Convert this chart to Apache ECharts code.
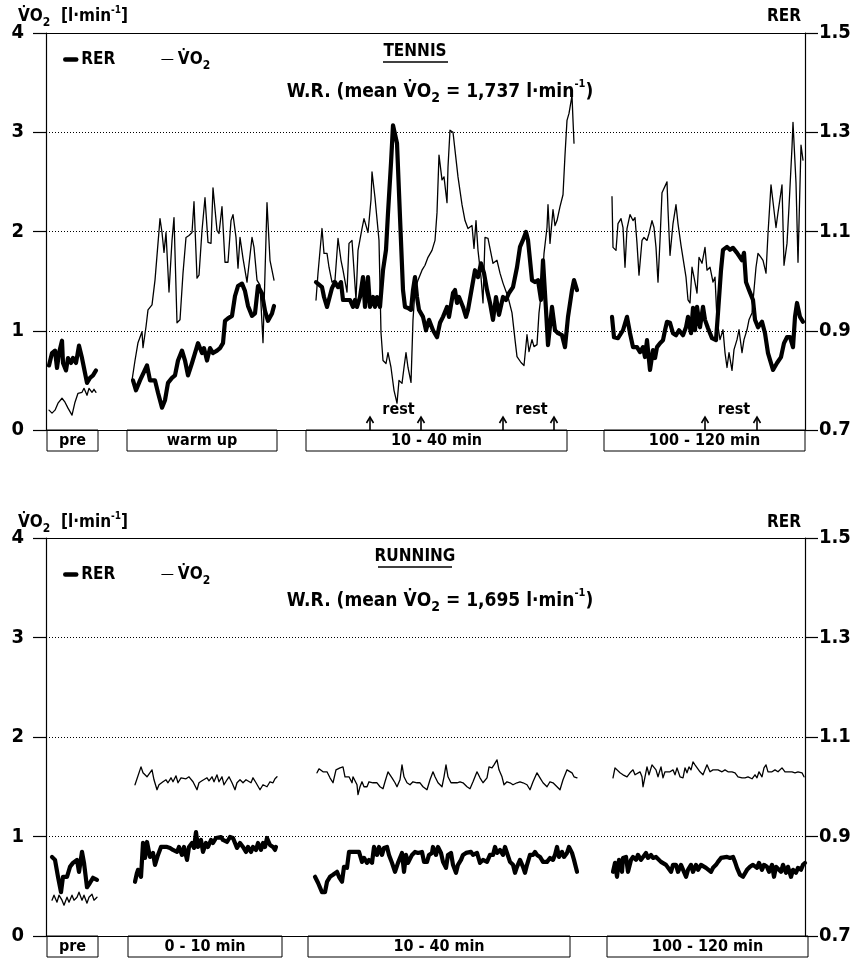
<!DOCTYPE html>
<html>
<head>
<meta charset="utf-8">
<script src="https://cdn.jsdelivr.net/npm/echarts@6/dist/echarts.min.js"></script>
<style>
html, body { margin: 0; padding: 0; background: #fff; }
#main { width: 863px; height: 958px; }
</style>
</head>
<body>
<div id="main"></div>
<script>
var FONT = "'DejaVu Sans Condensed', 'DejaVu Sans', sans-serif";

// x is a compressed time index (segments of the session separated by gaps)
// ---- TENNIS ----
var tennisPreRerT = [3,6,9,11,13,16,17,20,22,25,27,30,33,36,38,41,44,47,50];
var tennisPreRer = [0.83,0.855,0.86,0.825,0.855,0.88,0.835,0.82,0.845,0.835,0.845,0.835,0.87,0.845,0.825,0.795,0.805,0.81,0.82];
var tennisPreVo2T = [3,6,9,12,16,19,22,26,29,32,36,38,41,43,46,48,50];
var tennisPreVo2 = [0.20,0.17,0.20,0.27,0.32,0.28,0.22,0.15,0.28,0.37,0.38,0.42,0.35,0.42,0.38,0.41,0.38];

var tennisWarmRerT = [87,90,94,101,104,109,112,116,119,122,126,129,132,136,139,142,146,149,152,156,158,161,164,167,171,174,177,179,182,186,189,192,196,199,202,206,209,212,216,219,222,226,228];
var tennisWarmRer = [0.80,0.78,0.80,0.83,0.80,0.80,0.775,0.745,0.76,0.795,0.805,0.81,0.84,0.86,0.84,0.81,0.835,0.855,0.875,0.855,0.865,0.84,0.865,0.855,0.86,0.865,0.875,0.92,0.925,0.93,0.97,0.99,0.995,0.98,0.95,0.93,0.935,0.99,0.975,0.94,0.92,0.935,0.95];
var tennisWarmVo2T = [86,89,92,96,97,100,102,106,109,111,114,116,118,120,123,126,128,131,134,137,140,143,146,148,151,153,156,159,162,165,167,171,173,176,179,182,185,187,190,192,194,197,201,203,206,208,211,214,217,219,221,224,226,228];
var tennisWarmVo2 = [0.50,0.70,0.88,0.99,0.83,1.04,1.21,1.26,1.51,1.53,2.13,1.99,1.79,1.99,1.39,1.91,2.14,1.08,1.11,1.58,1.94,1.96,1.99,2.30,1.53,1.56,2.01,2.34,1.89,1.88,2.44,2.01,1.98,2.25,1.69,1.69,2.11,2.17,1.94,1.63,1.94,1.73,1.49,1.51,1.94,1.84,1.51,1.46,0.88,1.58,2.29,1.71,1.73,1.51];

var tennisMidRerT = [270,272,276,278,281,283,286,289,292,295,297,301,304,307,309,311,314,317,319,322,324,327,329,331,334,337,340,342,345,347,349,351,354,357,359,362,365,367,369,371,373,377,380,383,387,391,394,397,401,403,407,409,411,413,417,420,422,426,429,432,435,438,441,444,447,450,453,457,460,463,467,471,474,477,480,482,486,489,492,495,497,500,502,506,509,512,516,519,522,526,528,531];
var tennisMidRer = [0.998,0.998,0.988,0.968,0.948,0.948,0.986,0.998,0.988,0.998,0.962,0.962,0.962,0.948,0.962,0.948,0.968,1.008,0.948,1.008,0.948,0.968,0.948,0.968,0.948,1.022,1.063,1.137,1.238,1.314,1.310,1.278,1.129,0.982,0.948,0.946,0.942,0.982,1.008,0.968,0.942,0.928,0.901,0.922,0.901,0.887,0.916,0.928,0.948,0.928,0.976,0.982,0.956,0.968,0.948,0.928,0.942,0.988,1.022,1.008,1.036,1.016,0.982,0.956,0.922,0.968,0.932,0.968,0.962,0.976,0.988,1.028,1.069,1.083,1.099,1.083,1.002,0.998,1.002,0.962,1.042,0.942,0.871,0.948,0.901,0.895,0.891,0.867,0.928,0.982,1.002,0.982];
var tennisMidVo2T = [270,272,276,278,281,283,286,289,292,295,297,301,303,306,308,310,312,316,318,322,325,326,329,331,333,335,337,340,342,345,348,351,353,356,358,360,362,365,367,369,372,376,379,382,386,389,391,393,396,398,401,402,404,407,409,412,416,419,422,426,428,430,432,435,437,439,442,445,447,451,454,457,459,462,466,469,471,475,478,481,483,486,488,491,493,496,498,501,502,504,507,509,511,514,517,519,521,523,526,527,528];
var tennisMidVo2 = [1.31,1.58,2.03,1.78,1.78,1.64,1.49,1.51,1.93,1.71,1.61,1.39,1.88,1.91,1.61,1.31,1.81,2.03,2.13,1.99,2.32,2.60,2.34,2.32,1.91,0.98,0.70,0.67,0.78,0.63,0.40,0.27,0.50,0.47,0.63,0.78,0.63,0.48,1.11,1.41,1.51,1.61,1.66,1.74,1.81,1.91,2.19,2.77,2.52,2.55,2.29,2.65,3.02,3.00,2.82,2.55,2.27,2.11,2.03,2.06,1.83,2.11,1.81,1.54,1.28,1.94,1.93,1.78,1.68,1.71,1.58,1.48,1.49,1.34,1.18,0.91,0.74,0.68,0.65,0.96,0.79,0.91,0.84,0.86,1.18,1.44,1.78,2.04,2.27,1.88,2.22,2.06,2.11,2.25,2.37,2.77,3.12,3.19,3.37,3.12,2.89];

var tennisLateRerT = [566,568,572,577,581,584,587,591,594,597,599,601,604,607,609,611,614,617,619,621,624,627,630,633,637,640,642,645,647,649,651,654,657,659,662,666,670,672,675,677,681,684,687,691,693,696,698,700,703,707,709,712,716,719,722,727,731,735,738,741,744,747,749,751,754,757];
var tennisLateRer = [0.928,0.887,0.885,0.901,0.928,0.895,0.867,0.867,0.857,0.867,0.847,0.881,0.821,0.861,0.845,0.867,0.875,0.881,0.901,0.918,0.916,0.895,0.891,0.901,0.891,0.907,0.928,0.895,0.946,0.901,0.948,0.907,0.948,0.922,0.905,0.885,0.881,0.936,1.022,1.063,1.069,1.063,1.067,1.057,1.059,1.042,1.057,0.998,0.982,0.962,0.922,0.907,0.918,0.895,0.855,0.821,0.835,0.847,0.875,0.887,0.887,0.867,0.928,0.956,0.928,0.918];
var tennisLateVo2T = [566,567,570,572,575,577,579,581,584,587,589,591,593,596,598,601,603,606,608,610,612,614,616,618,621,622,624,627,630,632,635,637,640,642,644,646,648,651,653,656,659,661,664,667,669,671,674,677,679,681,683,686,688,691,693,696,698,701,703,706,708,710,712,715,717,720,722,725,727,730,732,736,738,741,743,746,747,750,752,755,757];
var tennisLateVo2 = [2.35,1.84,1.81,2.08,2.13,2.04,1.64,2.03,2.17,2.11,2.14,1.88,1.56,1.91,1.94,1.91,1.98,2.11,2.04,1.84,1.49,1.91,2.39,2.40,2.50,2.22,1.76,2.08,2.27,2.08,1.86,1.84,1.54,1.31,1.28,1.64,1.54,1.38,1.74,1.68,1.84,1.61,1.64,1.49,1.54,1.11,0.91,1.01,0.78,0.63,0.78,0.60,0.81,0.91,1.01,0.78,0.91,1.01,1.11,1.18,1.41,1.64,1.78,1.74,1.71,1.58,1.98,2.47,2.30,2.04,2.19,2.47,1.66,1.88,2.25,2.85,3.10,2.49,1.69,2.87,2.72];

var tennisPhases = ['pre', 'warm up', '10 - 40 min', '100 - 120 min'];
var tennisPhaseStart = [1, 81, 260, 558];
var tennisPhaseEnd = [52, 231, 521, 759];
var tennisRestStart = [324, 457, 659];
var tennisRestEnd = [375, 508, 711];

// ---- RUNNING ----
var runPreRerT = [6,9,12,15,17,21,24,27,31,33,36,38,41,44,47,51];
var runPreRer = [0.859,0.853,0.819,0.788,0.819,0.819,0.839,0.847,0.853,0.829,0.869,0.847,0.798,0.807,0.817,0.813];
var runPreVo2T = [6,8,11,13,16,18,21,23,26,28,31,33,36,38,41,43,46,48,51];
var runPreVo2 = [0.36,0.41,0.34,0.41,0.36,0.31,0.39,0.34,0.41,0.36,0.39,0.44,0.36,0.41,0.33,0.39,0.42,0.36,0.39];

var runEarlyRerT = [89,91,92,95,97,99,101,104,107,109,112,115,117,121,124,127,131,133,136,138,141,143,146,148,150,152,155,157,160,162,165,167,170,172,175,177,181,184,187,189,191,194,197,200,202,205,207,210,212,215,217,219,221,224,227,229,230];
var runEarlyRer = [0.809,0.827,0.833,0.819,0.887,0.857,0.889,0.859,0.867,0.843,0.863,0.879,0.879,0.879,0.877,0.873,0.869,0.879,0.863,0.879,0.853,0.879,0.887,0.877,0.909,0.879,0.893,0.869,0.887,0.879,0.893,0.887,0.897,0.893,0.899,0.893,0.889,0.899,0.897,0.887,0.877,0.887,0.879,0.869,0.879,0.869,0.879,0.873,0.887,0.873,0.887,0.879,0.897,0.883,0.879,0.873,0.879];
var runEarlyVo2T = [89,91,95,97,99,101,103,106,108,111,113,117,120,122,125,127,130,132,135,137,140,143,147,151,153,156,158,161,163,166,168,171,173,176,178,181,183,186,189,191,194,197,200,202,205,207,210,212,214,217,219,221,224,227,229,231];
var runEarlyVo2 = [1.52,1.54,1.70,1.64,1.65,1.60,1.61,1.67,1.57,1.47,1.52,1.55,1.57,1.54,1.59,1.55,1.61,1.54,1.59,1.60,1.58,1.60,1.55,1.47,1.54,1.56,1.54,1.59,1.56,1.60,1.55,1.62,1.55,1.60,1.52,1.57,1.60,1.54,1.47,1.54,1.57,1.54,1.57,1.58,1.54,1.59,1.54,1.54,1.47,1.52,1.54,1.50,1.55,1.54,1.58,1.60];

var runMidRerT = [269,272,276,279,281,284,287,291,293,296,298,301,303,307,310,313,316,318,321,323,326,328,331,333,336,338,341,343,346,349,352,356,358,360,362,366,369,372,376,378,381,383,386,387,390,392,395,397,400,402,405,407,410,412,415,417,420,422,425,427,431,434,437,441,444,447,449,451,454,457,459,461,464,467,469,471,474,477,479,481,484,487,489,491,494,497,499,501,504,507,509,511,513,516,518,521,523,526,528,531];
var runMidRer = [0.819,0.807,0.788,0.788,0.809,0.819,0.823,0.829,0.819,0.809,0.839,0.837,0.869,0.869,0.869,0.869,0.849,0.857,0.847,0.853,0.847,0.879,0.863,0.879,0.863,0.877,0.879,0.863,0.847,0.829,0.847,0.867,0.829,0.863,0.847,0.863,0.869,0.867,0.869,0.849,0.849,0.863,0.867,0.879,0.863,0.879,0.867,0.849,0.837,0.863,0.867,0.843,0.827,0.843,0.853,0.863,0.867,0.863,0.869,0.863,0.867,0.847,0.853,0.849,0.863,0.863,0.879,0.867,0.873,0.863,0.879,0.867,0.849,0.843,0.827,0.839,0.853,0.839,0.827,0.843,0.863,0.863,0.869,0.863,0.859,0.849,0.853,0.849,0.857,0.853,0.863,0.879,0.859,0.869,0.859,0.867,0.879,0.867,0.853,0.829];
var runMidVo2T = [271,273,277,281,284,287,290,294,297,299,301,303,306,307,309,311,312,314,316,318,321,323,327,331,334,337,339,342,346,349,351,354,356,358,361,364,367,371,374,377,381,384,387,389,392,396,398,400,402,405,407,411,414,417,421,424,427,431,434,437,441,443,446,448,451,453,456,458,461,464,467,471,474,477,481,484,487,491,494,497,501,504,507,511,514,517,521,523,526,528,531];
var runMidVo2 = [1.64,1.68,1.65,1.65,1.59,1.54,1.67,1.69,1.70,1.60,1.59,1.60,1.54,1.60,1.62,1.52,1.42,1.50,1.55,1.50,1.50,1.55,1.54,1.54,1.50,1.48,1.55,1.65,1.59,1.54,1.50,1.57,1.72,1.60,1.54,1.52,1.55,1.54,1.54,1.50,1.47,1.57,1.65,1.60,1.54,1.50,1.60,1.72,1.60,1.54,1.52,1.54,1.55,1.54,1.50,1.48,1.55,1.65,1.59,1.54,1.59,1.70,1.69,1.72,1.77,1.67,1.60,1.52,1.55,1.54,1.52,1.54,1.55,1.54,1.52,1.47,1.55,1.64,1.59,1.54,1.50,1.55,1.54,1.50,1.47,1.57,1.67,1.69,1.64,1.60,1.59];

var runLateRerT = [567,569,571,573,576,577,580,582,585,587,590,592,595,597,600,602,605,607,610,612,615,617,620,622,625,627,630,632,635,637,640,642,645,647,650,652,655,657,660,662,665,667,670,672,675,677,681,684,687,689,691,694,697,701,704,707,711,713,716,718,721,723,726,728,730,732,735,737,740,742,745,747,750,752,755,757,759];
var runLateRer = [0.829,0.847,0.819,0.853,0.829,0.857,0.859,0.829,0.853,0.859,0.853,0.863,0.853,0.857,0.867,0.857,0.863,0.857,0.859,0.857,0.849,0.847,0.843,0.847,0.829,0.843,0.843,0.829,0.843,0.843,0.819,0.833,0.843,0.829,0.843,0.833,0.843,0.847,0.837,0.839,0.829,0.837,0.843,0.849,0.857,0.859,0.859,0.857,0.859,0.849,0.837,0.823,0.819,0.833,0.839,0.843,0.837,0.847,0.833,0.843,0.839,0.829,0.843,0.819,0.839,0.843,0.829,0.843,0.827,0.839,0.819,0.833,0.827,0.837,0.833,0.843,0.847];
var runLateVo2T = [567,569,571,574,577,579,581,584,587,589,591,594,596,597,599,601,603,606,608,610,612,615,617,619,621,624,627,629,631,634,637,639,641,643,645,647,649,651,654,657,659,661,664,667,669,672,676,679,682,686,689,692,696,699,702,706,709,711,713,716,718,720,722,726,729,732,736,739,742,746,749,752,756,758];
var runLateVo2 = [1.59,1.69,1.70,1.64,1.62,1.64,1.60,1.64,1.67,1.62,1.64,1.65,1.60,1.50,1.60,1.70,1.62,1.72,1.70,1.67,1.60,1.70,1.59,1.65,1.64,1.65,1.67,1.62,1.69,1.60,1.59,1.69,1.64,1.70,1.67,1.75,1.72,1.70,1.65,1.62,1.60,1.72,1.65,1.67,1.65,1.67,1.65,1.67,1.65,1.65,1.64,1.60,1.59,1.59,1.60,1.58,1.62,1.59,1.65,1.60,1.69,1.72,1.65,1.65,1.67,1.65,1.69,1.65,1.65,1.65,1.64,1.65,1.64,1.60];

var runPhases = ['pre', '0 - 10 min', '10 - 40 min', '100 - 120 min'];
var runPhaseStart = [1, 82, 262, 561];
var runPhaseEnd = [52, 236, 524, 762];

var vo2Ticks = [0, 1, 2, 3, 4];

// rich text pieces for V-dot-O2 and l·min-1
function richSet(size) {
  var base = { fontWeight: 'bold', fontFamily: FONT, color: '#000' };
  return {
    m: Object.assign({ fontSize: size, lineHeight: size + 7, verticalAlign: 'middle' }, base),
    s: Object.assign({ fontSize: Math.round(size * 0.72), lineHeight: Math.round(size * 0.72), verticalAlign: 'bottom' }, base),
    p: Object.assign({ fontSize: Math.round(size * 0.6), lineHeight: Math.round(size * 0.6), verticalAlign: 'top' }, base)
  };
}
var rich = richSet(17);
var richBig = richSet(19);
var VO2 = '{m|V\u0307O}{s|2}';

function zip(t, v) {
  return t.map(function (x, i) { return [x, v[i]]; });
}

function lineSeries(name, gi, yi, t, v, width) {
  return {
    name: name, type: 'line', xAxisIndex: gi, yAxisIndex: yi,
    data: zip(t, v), symbol: 'none', showSymbol: false, silent: true,
    itemStyle: { color: '#000' },
    lineStyle: { color: '#000', width: width, join: 'round', cap: 'round' },
    z: width > 2 ? 4 : 3
  };
}

function phaseSeries(gi, yi, labels, starts, ends) {
  return {
    type: 'custom', xAxisIndex: gi, yAxisIndex: yi, clip: false, silent: true, z: 5,
    data: labels.map(function (l, i) { return [starts[i], ends[i], 0]; }),
    encode: { x: [0, 1], y: 2 },
    renderItem: function (params, api) {
      var a = api.coord([api.value(0), 0]);
      var b = api.coord([api.value(1), 0]);
      return {
        type: 'group',
        children: [
          { type: 'rect', shape: { x: a[0], y: a[1], width: b[0] - a[0], height: 21 },
            style: { fill: 'none', stroke: '#000', lineWidth: 1 } },
          { type: 'text', x: (a[0] + b[0]) / 2, y: a[1] + 11,
            style: { text: labels[params.dataIndex], fill: '#000', fontSize: 16, fontWeight: 'bold',
                     fontFamily: FONT, align: 'center', verticalAlign: 'middle' } }
        ]
      };
    }
  };
}

function restSeries(gi, yi, starts, ends) {
  return {
    type: 'custom', xAxisIndex: gi, yAxisIndex: yi, clip: false, silent: true, z: 5,
    data: starts.map(function (s, i) { return [s, ends[i], 0]; }),
    encode: { x: [0, 1], y: 2 },
    renderItem: function (params, api) {
      var a = api.coord([api.value(0), 0]);
      var b = api.coord([api.value(1), 0]);
      var y0 = a[1];
      function arrow(x) {
        return [
          { type: 'line', shape: { x1: x, y1: y0, x2: x, y2: y0 - 12 }, style: { stroke: '#000', lineWidth: 1.6 } },
          { type: 'polyline', shape: { points: [[x - 3.5, y0 - 7], [x, y0 - 13], [x + 3.5, y0 - 7]] },
            style: { stroke: '#000', lineWidth: 1.6, fill: null } }
        ];
      }
      return {
        type: 'group',
        children: arrow(a[0]).concat(arrow(b[0])).concat([
          { type: 'text', x: (a[0] + b[0]) / 2 + 3, y: y0 - 20,
            style: { text: 'rest', fill: '#000', fontSize: 16, fontWeight: 'bold', fontFamily: FONT,
                     align: 'center', verticalAlign: 'middle' } }
        ])
      };
    }
  };
}

var axisLine = { show: true, onZero: false, lineStyle: { color: '#000', width: 1.2 } };
var tickLabel = { color: '#000', fontSize: 20, fontWeight: 'bold', fontFamily: FONT };

function xAxisFor(gi, pos) {
  return { gridIndex: gi, type: 'value', position: pos, min: 0, max: 759, axisLine: axisLine,
           axisTick: { show: false }, axisLabel: { show: false }, splitLine: { show: false } };
}
function vo2Axis(gi) {
  return { gridIndex: gi, type: 'value', position: 'left', min: vo2Ticks[0], max: vo2Ticks[vo2Ticks.length - 1], interval: 1,
           axisLine: axisLine, axisTick: { show: true, length: 13, lineStyle: { color: '#000', width: 1.2 } },
           axisLabel: Object.assign({ margin: 22 }, tickLabel),
           splitLine: { show: true, lineStyle: { color: '#000', width: 1, type: [1, 2] } } };
}
function rerAxis(gi) {
  return { gridIndex: gi, type: 'value', position: 'right', min: 0.7, max: 1.5, interval: 0.2,
           axisLine: axisLine, axisTick: { show: true, length: 13, lineStyle: { color: '#000', width: 1.2 } },
           axisLabel: Object.assign({ margin: 14, formatter: function (v) { return v.toFixed(1); } }, tickLabel),
           splitLine: { show: false } };
}

var hiddenDot = { color: 'rgba(0,0,0,0)', borderColor: 'rgba(0,0,0,0)', borderWidth: 0, opacity: 0 };
function legendFor(top) {
  return {
    left: 58, top: top, orient: 'horizontal', itemGap: 46, itemWidth: 11, itemHeight: 10,
    selectedMode: false,
    data: [
      { name: 'RER', lineStyle: { width: 4.5, color: '#000' }, itemStyle: hiddenDot },
      { name: 'VO2', lineStyle: { width: 1.2, color: '#000' }, itemStyle: hiddenDot }
    ],
    formatter: function (n) { return n === 'VO2' ? VO2 : '{m|RER}'; },
    textStyle: { rich: rich }
  };
}

function panelText(yTop, title, titleY, wrText, wrY, ulX1, ulX2) {
  return [
    { type: 'text', x: 18, y: yTop, style: { text: VO2 + '{m|  [l·min}{p|-1}{m|]}', rich: rich, verticalAlign: 'middle' } },
    { type: 'text', x: 801, y: yTop, style: { text: '{m|RER}', rich: rich, align: 'right', verticalAlign: 'middle' } },
    { type: 'text', x: 415, y: titleY, style: { text: '{m|' + title + '}', rich: rich, align: 'center', verticalAlign: 'middle' } },
    { type: 'line', shape: { x1: ulX1, y1: titleY + 10, x2: ulX2, y2: titleY + 10 }, style: { stroke: '#000', lineWidth: 1.4 } },
    { type: 'text', x: 440, y: wrY, style: { text: '{m|W.R. (mean }' + VO2 + '{m| = ' + wrText + ' l·min}{p|-1}{m|)}', rich: richBig, align: 'center', verticalAlign: 'middle' } }
  ];
}

var chart = echarts.init(document.getElementById('main'));
chart.setOption({
  animation: false,
  backgroundColor: '#fff',
  grid: [
    { left: 46, right: 58, top: 33, height: 397 },
    { left: 46, right: 58, top: 538, height: 398 }
  ],
  xAxis: [xAxisFor(0, 'bottom'), xAxisFor(1, 'bottom'), xAxisFor(0, 'top'), xAxisFor(1, 'top')],
  yAxis: [vo2Axis(0), rerAxis(0), vo2Axis(1), rerAxis(1)],
  legend: [legendFor(46), legendFor(561)],
  graphic: panelText(17, 'TENNIS', 52, '1,737', 92, 383, 448)
    .concat(panelText(523, 'RUNNING', 557, '1,695', 601, 378, 452)),
  series: [
    lineSeries('RER', 0, 1, tennisPreRerT, tennisPreRer, 4.2),
    lineSeries('RER', 0, 1, tennisWarmRerT, tennisWarmRer, 4.2),
    lineSeries('RER', 0, 1, tennisMidRerT, tennisMidRer, 4.2),
    lineSeries('RER', 0, 1, tennisLateRerT, tennisLateRer, 4.2),
    lineSeries('VO2', 0, 0, tennisPreVo2T, tennisPreVo2, 1.3),
    lineSeries('VO2', 0, 0, tennisWarmVo2T, tennisWarmVo2, 1.3),
    lineSeries('VO2', 0, 0, tennisMidVo2T, tennisMidVo2, 1.3),
    lineSeries('VO2', 0, 0, tennisLateVo2T, tennisLateVo2, 1.3),
    phaseSeries(0, 0, tennisPhases, tennisPhaseStart, tennisPhaseEnd),
    restSeries(0, 0, tennisRestStart, tennisRestEnd),

    lineSeries('RER', 1, 3, runPreRerT, runPreRer, 4.2),
    lineSeries('RER', 1, 3, runEarlyRerT, runEarlyRer, 4.2),
    lineSeries('RER', 1, 3, runMidRerT, runMidRer, 4.2),
    lineSeries('RER', 1, 3, runLateRerT, runLateRer, 4.2),
    lineSeries('VO2', 1, 2, runPreVo2T, runPreVo2, 1.3),
    lineSeries('VO2', 1, 2, runEarlyVo2T, runEarlyVo2, 1.3),
    lineSeries('VO2', 1, 2, runMidVo2T, runMidVo2, 1.3),
    lineSeries('VO2', 1, 2, runLateVo2T, runLateVo2, 1.3),
    phaseSeries(1, 2, runPhases, runPhaseStart, runPhaseEnd)
  ]
});
</script>
</body>
</html>
